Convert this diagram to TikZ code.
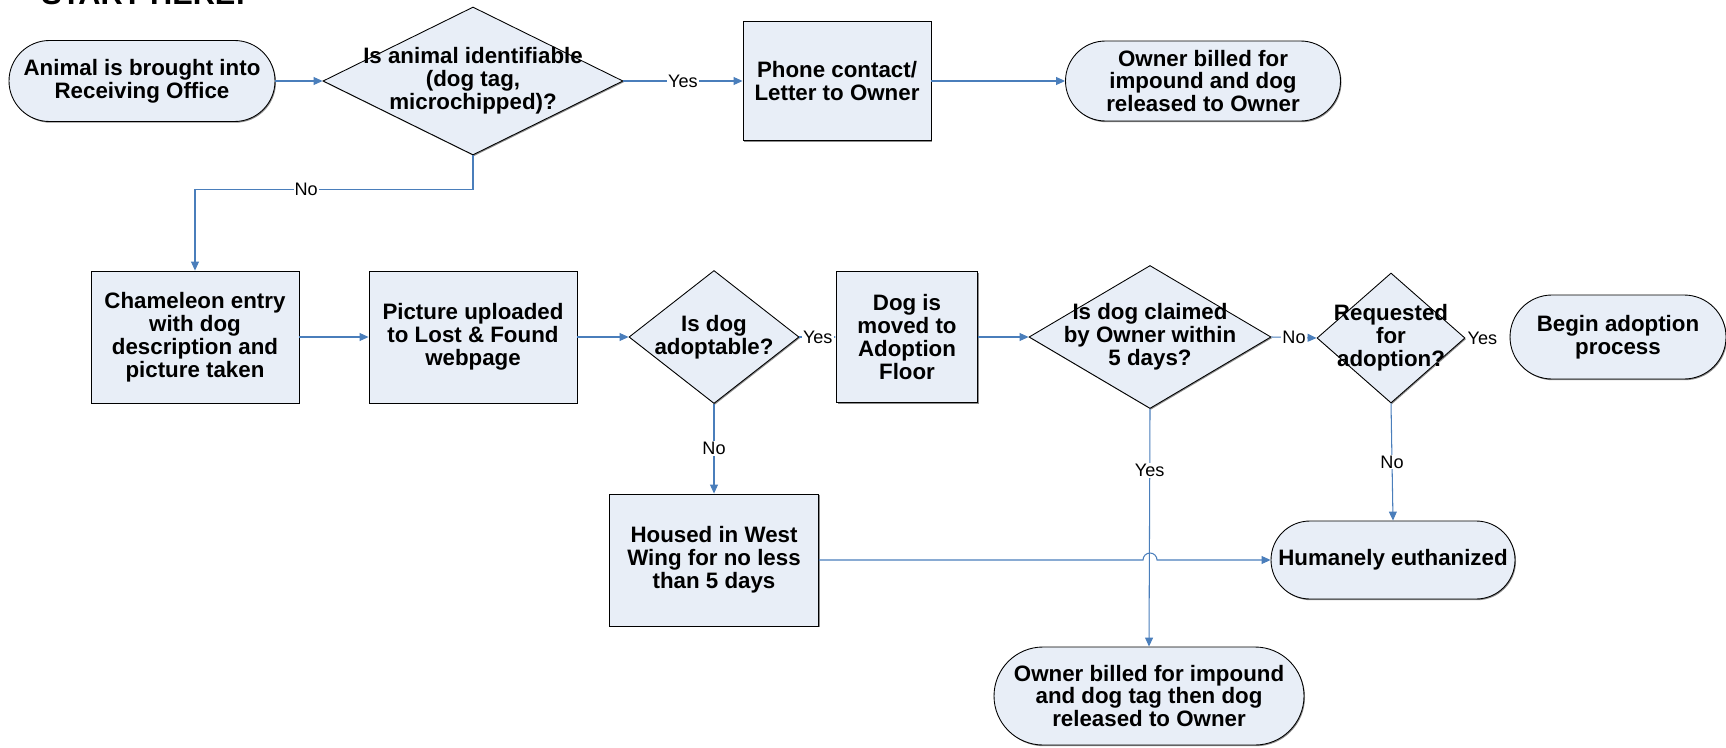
\documentclass[tikz,border=0pt]{standalone}
\usepackage{fontspec}
\setmainfont{Liberation Sans}
\usetikzlibrary{shapes.geometric,shapes.misc,arrows.meta,calc,shadows}
\newlength\pxu \setlength\pxu{0.02cm}
\definecolor{boxfill}{RGB}{232,238,247}
\definecolor{flowblue}{RGB}{74,126,187}

\begin{document}
\begin{tikzpicture}[x=0.02cm,y=-0.02cm,
  shapefont/.style={font=\bfseries\fontsize{12.7}{13}\selectfont},
  base/.style={draw=black, line width=0.5pt, fill=boxfill, inner sep=0pt,
    align=center, shapefont,
    drop shadow={shadow xshift=1\pxu, shadow yshift=-1.2\pxu, fill=black!45, opacity=1}},
  procbox/.style={base, rectangle},
  term/.style={base, rounded rectangle},
  dec/.style={base, diamond},
  dectext/.style={align=center, shapefont, inner sep=0pt},
  flow/.style={draw=flowblue, line width=0.6pt, -{Triangle[length=5.1pt,width=4.5pt]}},
  lbl/.style={fill=white, inner sep=0.6pt, font=\fontsize{10.3}{11}\selectfont},
]
\useasboundingbox (0,0) rectangle (1726,747);

% heading
\node[anchor=base west, inner sep=0pt, font=\bfseries\fontsize{17.5}{20}\selectfont] (title) at (41,5) {START HERE!};

% top row
\node[term, minimum width=266\pxu, minimum height=81\pxu] (start) at (142,81)
  {Animal is brought into\\Receiving Office};
\node[dec, minimum width=300\pxu, minimum height=148\pxu,
  label={[dectext]center:{Is animal identifiable\\(dog tag,\\microchipped)?}}] (d1) at (473,81) {};
\node[procbox, minimum width=188\pxu, minimum height=119\pxu] (phone) at (837,81)
  {Phone contact/\\Letter to Owner};
\node[term, minimum width=275\pxu, minimum height=80\pxu] (owner1) at (1203,81)
  {Owner billed for\\impound and dog\\released to Owner};

% middle row
\node[procbox, minimum width=208\pxu, minimum height=132\pxu] (cham) at (195,337)
  {Chameleon entry\\with dog\\description and\\picture taken};
\node[procbox, minimum width=208\pxu, minimum height=132\pxu] (pic) at (473,337)
  {Picture uploaded\\to Lost \& Found\\webpage};
\node[dec, minimum width=170\pxu, minimum height=133\pxu,
  label={[dectext]center:{Is dog\\adoptable?}}] (d2) at (714,337) {};
\node[procbox, minimum width=141\pxu, minimum height=131\pxu] (dogmove) at (907,337)
  {Dog is\\moved to\\Adoption\\Floor};
\node[dec, minimum width=242\pxu, minimum height=143\pxu,
  label={[dectext]center:{Is dog claimed\\by Owner within\\5 days?}}] (d3) at (1150,337) {};
\node[dec, minimum width=148\pxu, minimum height=130\pxu,
  label={[dectext]center:{Requested\\for\\adoption?}}] (d4) at (1391,338) {};
\node[term, minimum width=216\pxu, minimum height=84\pxu] (adopt) at (1618,337)
  {Begin adoption\\process};

% bottom row
\node[procbox, minimum width=209\pxu, minimum height=132\pxu] (housed) at (714,560)
  {Housed in West\\Wing for no less\\than 5 days};
\node[term, minimum width=244\pxu, minimum height=78\pxu] (euth) at (1393,560)
  {Humanely euthanized};
\node[term, minimum width=310\pxu, minimum height=98\pxu] (owner2) at (1149,696)
  {Owner billed for impound\\and dog tag then dog\\released to Owner};

% connectors
\draw[flow] (start.east) -- (d1.west);
\draw[flow] (d1.east) -- node[lbl]{Yes} (phone.west);
\draw[flow] (phone.east) -- (owner1.west);
\draw[flow] (d1.south) -- ++(0,34) -| node[lbl, pos=0.3]{No} (cham.north);
\draw[flow] (cham.east) -- (pic.west);
\draw[flow] (pic.east) -- (d2.west);
\draw[flow] (d2.east) -- node[lbl]{Yes} (dogmove.west);
\draw[flow] (dogmove.east) -- (d3.west);
\draw[flow] (d3.east) -- node[lbl]{No} (d4.west);
\node[lbl] (d4yes) at ($(d4.east)+(17,0)$) {Yes};
\draw[flow] (d2.south) -- node[lbl]{No} (housed.north);
\draw[flow] (d3.south) -- node[lbl, pos=0.26]{Yes} (owner2.north);
\draw[flow] (d4.south) -- node[lbl]{No} (euth.north);
\draw[flow] (housed.east) -- ($(d3.south |- housed.east)+(-7,0)$)
  arc[start angle=180, end angle=360, radius=7] -- (euth.west);
\end{tikzpicture}
\end{document}
